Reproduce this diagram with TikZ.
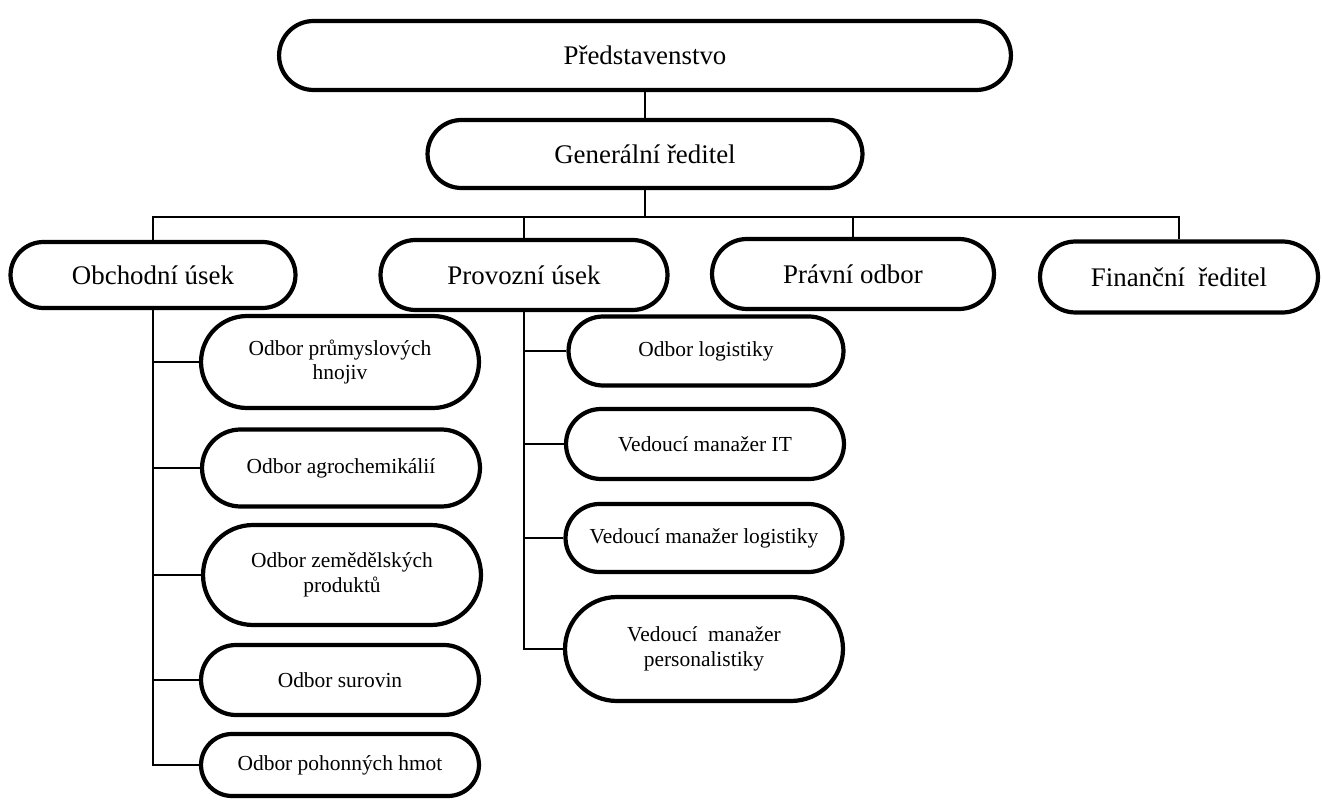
\documentclass[tikz,border=0pt]{standalone}
\usepackage{fontspec}
\setmainfont{Liberation Serif}
\usetikzlibrary{shapes.misc}
\begin{document}
\begin{tikzpicture}[x=0.02cm,y=-0.02cm,
 unit/.style={rounded rectangle,draw,line width=2.4pt,inner sep=0pt,
   minimum height=1.4cm,font=\fontsize{15.3}{18}\selectfont},
 dept/.style={rounded rectangle,draw,line width=2.4pt,inner sep=0pt,
   minimum width=5.56cm,align=center,font=\fontsize{12.2}{14}\selectfont},
 link/.style={line width=.8pt}]
 \useasboundingbox (0,0) rectangle (1322,800);
 \node[unit,minimum width=14.64cm,minimum height=1.38cm] (pred) at (645,55.5) {Představenstvo};
 \node[unit,minimum width=8.7cm,minimum height=1.36cm] (gen) at (645,154) {Generální ředitel};
 \node[unit,minimum width=5.7cm,minimum height=1.32cm] (obch) at (153,275) {Obchodní úsek};
 \node[unit,minimum width=5.74cm] (prov) at (524,275) {Provozní úsek};
 \node[unit,minimum width=5.64cm] (prav) at (853,274) {Právní odbor};
 \node[unit,minimum width=5.56cm,minimum height=1.42cm] (fin) at (1179,277) {Finanční~~ředitel};
 \node[dept,minimum height=1.84cm] (o1) at (340,362) {Odbor průmyslových\\hnojiv};
 \node[dept,minimum height=1.54cm] (o2) at (341,468) {Odbor agrochemikálií};
 \node[dept,minimum height=2cm] (o3) at (342,575) {Odbor zemědělských\\produktů};
 \node[dept,minimum height=1.4cm] (o4) at (340,680) {Odbor surovin};
 \node[dept,minimum height=1.24cm] (o5) at (340,765) {Odbor pohonných hmot};
 \node[dept,minimum width=5.5cm,minimum height=1.38cm] (p1) at (706,351) {Odbor logistiky};
 \node[dept,minimum height=1.4cm] (p2) at (705,444) {Vedoucí manažer IT};
 \node[dept,minimum width=5.54cm,minimum height=1.36cm] (p3) at (704,538) {Vedoucí manažer logistiky};
 \node[dept,minimum height=2.08cm] (p4) at (704,649) {Vedoucí~~manažer\\personalistiky};
 \coordinate (bus) at (645,217);
 \draw[link] (pred.south)--(gen.north) (gen.south)--(bus);
 \draw[link] (bus) -| (obch.north) (bus) -| (prov.north)
   (bus) -| (prav.north) (bus) -| (fin.north);
 \draw[link] (obch.south) |- (o1.west) (obch.south) |- (o2.west)
   (obch.south) |- (o3.west) (obch.south) |- (o4.west) (obch.south) |- (o5.west);
 \draw[link] (prov.south) |- (p1.west) (prov.south) |- (p2.west)
   (prov.south) |- (p3.west) (prov.south) |- (p4.west);
\end{tikzpicture}
\end{document}
